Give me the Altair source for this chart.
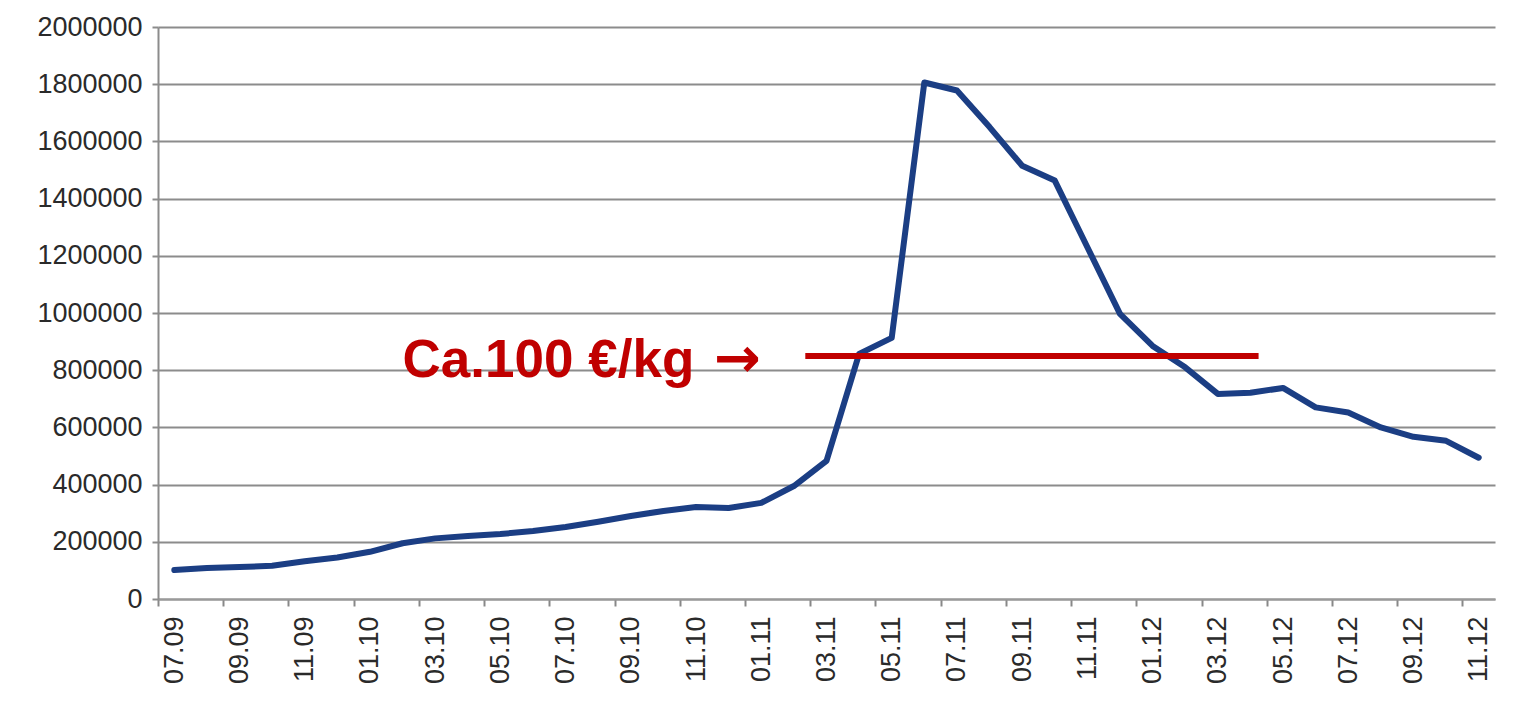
import altair as alt
import pandas as pd

# ---- data ----
month_labels = [
    "07.09", "08.09", "09.09", "10.09", "11.09", "12.09",
    "01.10", "02.10", "03.10", "04.10", "05.10", "06.10",
    "07.10", "08.10", "09.10", "10.10", "11.10", "12.10",
    "01.11", "02.11", "03.11", "04.11", "05.11", "06.11",
    "07.11", "08.11", "09.11", "10.11", "11.11", "12.11",
    "01.12", "02.12", "03.12", "04.12", "05.12", "06.12",
    "07.12", "08.12", "09.12", "10.12", "11.12",
]
values = [
    101000, 108000, 112000, 116000, 132000, 145000,
    165000, 195000, 212000, 220000, 227000, 238000,
    252000, 270000, 290000, 308000, 322000, 318000,
    336000, 395000, 483000, 857000, 913000, 1806000,
    1778000, 1650000, 1515000, 1463000, 1230000, 997000,
    885000, 810000, 717000, 721000, 738000, 670000,
    652000, 600000, 567000, 553000, 494000,
]
y_ticks = [0, 200000, 400000, 600000, 800000, 1000000,
           1200000, 1400000, 1600000, 1800000, 2000000]
label_months = [0, 2, 4, 6, 8, 10, 12, 14, 16, 18, 20,
                22, 24, 26, 28, 30, 32, 34, 36, 38, 40]

# annotation (in month-index / value units)
price_level = 850000
price_start = 19.35
price_end = 33.25
annotation_text = "Ca.100 €/kg"
annotation_x = 7.0
annotation_y = 775000
arrow_text = "→"
arrow_x = 16.55

n = len(month_labels)
df = pd.DataFrame({"idx": list(range(n)), "month": month_labels, "value": values})
rule_df = pd.DataFrame({"idx": [price_start], "x2": [price_end], "value": [price_level]})
text_df = pd.DataFrame({"idx": [annotation_x], "value": [annotation_y], "t": [annotation_text]})
arrow_df = pd.DataFrame({"idx": [arrow_x], "value": [annotation_y], "t": [arrow_text]})

W, H = 1337, 572
band = W / n

x_scale = alt.Scale(domain=[-0.5, n - 0.5], nice=False, zero=False)
y_scale = alt.Scale(domain=[0, 2000000], nice=False, zero=True)

label_expr = "[" + ",".join("'" + m + "'" for m in month_labels) + "][datum.value]"

x_axis = alt.Axis(
    values=label_months, labelExpr=label_expr, labelAngle=270,
    labelFont="Liberation Sans", labelFontSize=27, labelColor="#2a2a2a",
    labelPadding=10, tickSize=7, tickColor="#888888", tickWidth=2,
    tickOffset=-band / 2, labelOffset=band / 2,
    domainColor="#9a9a9a", domainWidth=2, grid=False, labelOverlap=False,
    title=None,
)
y_axis = alt.Axis(
    values=y_ticks, format="d", grid=True, gridColor="#8c8c8c", gridWidth=2,
    domainColor="#8c8c8c", domainWidth=2, tickColor="#8c8c8c", tickWidth=2,
    tickSize=6, labelPadding=10, labelFont="Liberation Sans",
    labelFontSize=27, labelColor="#2a2a2a", labelOverlap=False, title=None,
)

X = alt.X("idx:Q", scale=x_scale, axis=x_axis, title=None)
Y = alt.Y("value:Q", scale=y_scale, axis=y_axis, title=None)

line = alt.Chart(df).mark_line(
    color="#1b3e84", strokeWidth=6, strokeJoin="round", strokeCap="round"
).encode(x=X, y=Y)

rule = alt.Chart(rule_df).mark_rule(color="#c00000", strokeWidth=6).encode(
    x=X, x2="x2:Q", y=Y,
)

text = alt.Chart(text_df).mark_text(
    align="left", baseline="alphabetic", font="Liberation Sans",
    fontSize=53, fontWeight="bold", color="#c00000",
).encode(x=X, y=Y, text="t:N")

arrow = alt.Chart(arrow_df).mark_text(
    align="left", baseline="alphabetic", font="DejaVu Sans",
    fontSize=56, fontWeight="bold", color="#c00000",
).encode(x=X, y=Y, text="t:N")

chart = alt.layer(line, rule, text, arrow).properties(
    width=W, height=H,
    padding={"left": 150, "top": 19, "right": 20, "bottom": 100},
    autosize=alt.AutoSizeParams(type="none"),
    background="white",
).configure_view(stroke=None)

chart.save("out.html", embed_options={"renderer": "svg", "actions": False})
